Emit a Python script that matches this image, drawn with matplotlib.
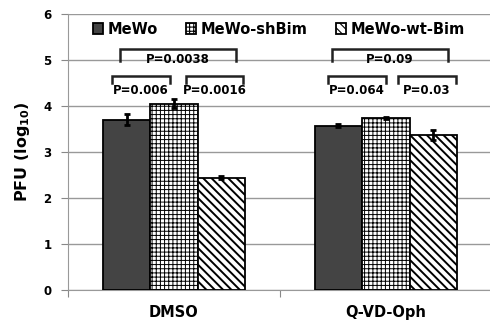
import numpy as np
import matplotlib
matplotlib.use("Agg")
import matplotlib.pyplot as plt

# data
groups = ["DMSO", "Q-VD-Oph"]
series = ["MeWo", "MeWo-shBim", "MeWo-wt-Bim"]
means = {
    "MeWo": [3.70, 3.57],
    "MeWo-shBim": [4.05, 3.74],
    "MeWo-wt-Bim": [2.44, 3.37],
}
errs = {
    "MeWo": [0.12, 0.03],
    "MeWo-shBim": [0.10, 0.03],
    "MeWo-wt-Bim": [0.03, 0.10],
}
# brackets: (x0, x1, top, leg bottom, label)
brackets = [
    (-0.255, 0.292, 5.24, 4.98, "P=0.0038"),
    (-0.292, -0.019, 4.65, 4.50, "P=0.006"),
    (0.057, 0.325, 4.65, 4.50, "P=0.0016"),
    (0.745, 1.292, 5.24, 4.98, "P=0.09"),
    (0.726, 1.000, 4.65, 4.50, "P=0.064"),
    (1.057, 1.330, 4.65, 4.50, "P=0.03"),
]

plt.rcParams['hatch.linewidth'] = 0.8
plt.rcParams['font.weight'] = 'bold'

fig = plt.figure(figsize=(4.9, 3.24), dpi=100)
ax = fig.add_axes([0.1388, 0.105, 0.865, 0.852])

styles = {
    "MeWo": dict(color="#444444", hatch=None, hlw=0.8),
    "MeWo-shBim": dict(color="white", hatch="++++", hlw=0.7),
    "MeWo-wt-Bim": dict(color="white", hatch="\\\\\\\\", hlw=1.4),
}
w = 0.224
x = np.arange(len(groups))
for i, s in enumerate(series):
    bars = ax.bar(x + (i - 1) * w, means[s], w, color=styles[s]["color"],
                  hatch=styles[s]["hatch"], edgecolor="black", linewidth=1.3,
                  label=s, zorder=3)
    for b in bars:
        if hasattr(b, "set_hatch_linewidth"):
            b.set_hatch_linewidth(styles[s]["hlw"])
    ax.errorbar(x + (i - 1) * w, means[s], yerr=errs[s], fmt="none",
                ecolor="black", elinewidth=2, capsize=2.5, capthick=2,
                zorder=4)

for x0, x1, top, bot, lab in brackets:
    ax.plot([x0, x0, x1, x1], [bot, top, top, bot], color="#222222",
            lw=1.8, zorder=5, solid_joinstyle="miter")
    ty = 5.0 if top > 5 else 4.33
    ax.text((x0 + x1) / 2, ty, lab, ha="center", va="center",
            fontsize=8.5, fontweight="bold", zorder=6)

ax.set_xlim(-0.5, 1.5)
ax.set_ylim(0, 6)
ax.set_yticks(range(7))
ax.set_xticks([-0.5, 0.5, 1.5])
ax.set_xticklabels([])
ax.tick_params(axis="x", length=5, color="#888888", direction="out")
ax.set_xticks(x, minor=True)
ax.set_xticklabels(groups, minor=True, fontsize=10.5, fontweight="bold")
ax.tick_params(axis="x", which="minor", length=0, pad=11)
ax.tick_params(axis="y", length=5, color="#888888", labelsize=8.5, pad=7)
for lab in ax.get_yticklabels():
    lab.set_fontweight("bold")
ax.grid(axis="y", color="#999999", lw=1, zorder=0)
for sp in ["top", "right"]:
    ax.spines[sp].set_visible(False)
ax.spines["left"].set_color("#999999")
ax.spines["bottom"].set_color("#999999")
ax.set_ylabel("PFU (log$_{\\mathbf{10}}$)", fontsize=11.5, fontweight="bold",
              labelpad=8)

leg = ax.legend(loc="upper left", bbox_to_anchor=(0.059, 0.972), ncol=3,
                frameon=False, fontsize=10.5, handlelength=0.7,
                handleheight=0.7, handletextpad=0.3, columnspacing=1.95,
                borderpad=0, borderaxespad=0)
for t in leg.get_texts():
    t.set_fontweight("bold")

fig.savefig("out.png", dpi=100)
